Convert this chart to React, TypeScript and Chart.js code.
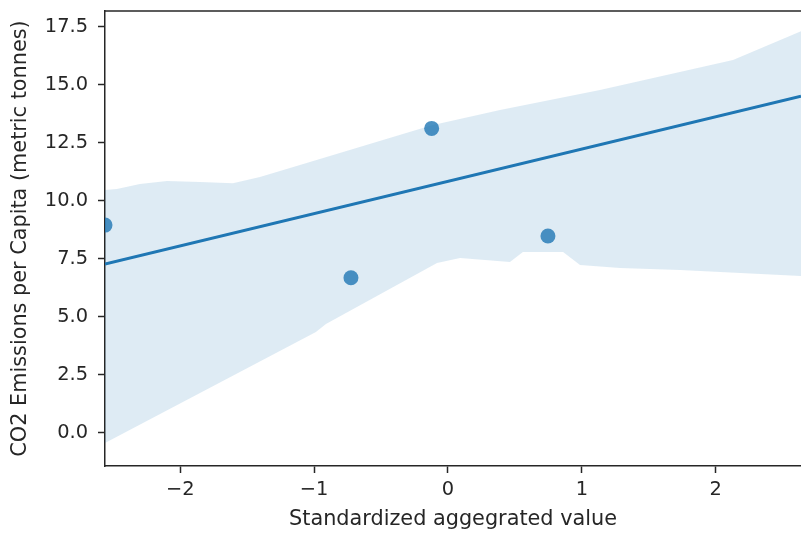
import React, { useEffect, useRef } from "react";
import { Chart, registerables } from "chart.js";

Chart.register(...registerables);

// Scatter points
const pointX = [-2.563, -0.725, -0.122, 0.747];
const pointY = [8.94, 6.67, 13.11, 8.47];

// Regression line
const fitX = [-2.563, 2.638];
const fitY = [7.26, 14.5];

// Confidence band, upper edge
const upperX = [-2.563, -2.474, -2.302, -2.1, -1.853, -1.607, -1.405, -1.106, -0.12, 0.389, 1.136, 2.13, 2.638];
const upperY = [10.45, 10.5, 10.71, 10.84, 10.8, 10.75, 11.01, 11.53, 13.25, 13.9, 14.76, 16.06, 17.3];

// Confidence band, lower edge
const lowerX = [-2.563, -0.987, -0.912, -0.082, 0.09, 0.463, 0.56, 0.86, 0.987, 1.286, 1.734, 2.638];
const lowerY = [-0.45, 4.33, 4.68, 7.31, 7.52, 7.35, 7.78, 7.78, 7.22, 7.09, 7.0, 6.75];

// Axes
const xMin = -2.563;
const xMax = 2.638;
const yMin = -1.444;
const yMax = 18.17;
const xTicks = [-2, -1, 0, 1, 2];
const yTicks = [0, 2.5, 5, 7.5, 10, 12.5, 15, 17.5];

const xTitle = "Standardized aggegrated value";
const yTitle = "CO2 Emissions per Capita (metric tonnes)";

const BLUE = "#1f77b4";
const INK = "#262626";
const FONT = "'DejaVu Sans', sans-serif";

const zip = (xs: number[], ys: number[]) => xs.map((x, i) => ({ x, y: ys[i] }));

const zeroPad = (s: any) => {
  s.paddingTop = 0;
  s.paddingBottom = 0;
  s.paddingLeft = 0;
  s.paddingRight = 0;
};

const topSpine = {
  id: "topSpine",
  afterDraw(chart: any) {
    const { ctx, chartArea } = chart;
    ctx.save();
    ctx.strokeStyle = INK;
    ctx.lineWidth = 1.5;
    ctx.beginPath();
    ctx.moveTo(chartArea.left, chartArea.top);
    ctx.lineTo(chartArea.right, chartArea.top);
    ctx.stroke();
    ctx.restore();
  },
};

export default function App() {
  const ref = useRef<HTMLCanvasElement>(null);

  useEffect(() => {
    if (!ref.current) return;
    const chart = new Chart(ref.current, {
      type: "line",
      data: {
        datasets: [
          {
            label: "points",
            data: zip(pointX, pointY),
            showLine: false,
            pointRadius: 7.5,
            pointBorderWidth: 0,
            pointBackgroundColor: "rgba(31,119,180,0.8)",
            pointBorderColor: "rgba(31,119,180,0)",
          },
          {
            label: "fit",
            data: zip(fitX, fitY),
            borderColor: BLUE,
            borderWidth: 3,
            pointRadius: 0,
            tension: 0,
            fill: false,
          },
          {
            label: "upper",
            data: zip(upperX, upperY),
            borderWidth: 0,
            borderColor: "rgba(0,0,0,0)",
            pointRadius: 0,
            tension: 0,
            fill: "+1",
            backgroundColor: "rgba(31,119,180,0.15)",
          },
          {
            label: "lower",
            data: zip(lowerX, lowerY),
            borderWidth: 0,
            borderColor: "rgba(0,0,0,0)",
            pointRadius: 0,
            tension: 0,
            fill: false,
          },
        ],
      },
      options: {
        animation: false,
        responsive: false,
        devicePixelRatio: 1,
        layout: { autoPadding: false, padding: { top: 11, left: 0, right: 0, bottom: 0 } },
        plugins: {
          legend: { display: false },
          tooltip: { enabled: false },
        },
        scales: {
          x: {
            type: "linear",
            min: xMin,
            max: xMax,
            afterFit: (s: any) => {
              s.height = 68;
              zeroPad(s);
            },
            afterBuildTicks: (s: any) => {
              s.ticks = xTicks.map((v) => ({ value: v }));
            },
            border: { display: true, color: INK, width: 1.5 },
            grid: {
              display: true,
              drawOnChartArea: false,
              drawTicks: true,
              tickLength: 7,
              tickWidth: 1.5,
              tickColor: INK,
            },
            ticks: {
              color: INK,
              font: { family: FONT, size: 19.4 },
              padding: 5,
              maxRotation: 0,
              autoSkip: false,
              callback: (v: any) => (v < 0 ? "\u2212" + Math.abs(v) : String(v)),
            },
            title: {
              display: true,
              text: xTitle,
              color: INK,
              font: { family: FONT, size: 20.8, lineHeight: 1.2 },
              padding: { top: 0, bottom: 2 },
            },
          },
          y: {
            type: "linear",
            min: yMin,
            max: yMax,
            afterFit: (s: any) => {
              s.width = 105;
              zeroPad(s);
            },
            afterBuildTicks: (s: any) => {
              s.ticks = yTicks.map((v) => ({ value: v }));
            },
            border: { display: true, color: INK, width: 1.5 },
            grid: {
              display: true,
              drawOnChartArea: false,
              drawTicks: true,
              tickLength: 7,
              tickWidth: 1.5,
              tickColor: INK,
            },
            ticks: {
              color: INK,
              font: { family: FONT, size: 19.4 },
              padding: 10,
              autoSkip: false,
              callback: (v: any) => Number(v).toFixed(1),
            },
            title: {
              display: true,
              text: yTitle,
              color: INK,
              font: { family: FONT, size: 20.8, lineHeight: 1.2 },
              padding: { top: 8, bottom: 0 },
            },
          },
        },
      },
      plugins: [topSpine],
    });
    return () => chart.destroy();
  }, []);

  return (
    <div style={{ position: "absolute", left: 0, top: 0, width: 801, height: 534, background: "#fff" }}>
      <canvas ref={ref} width={801} height={534} />
    </div>
  );
}
